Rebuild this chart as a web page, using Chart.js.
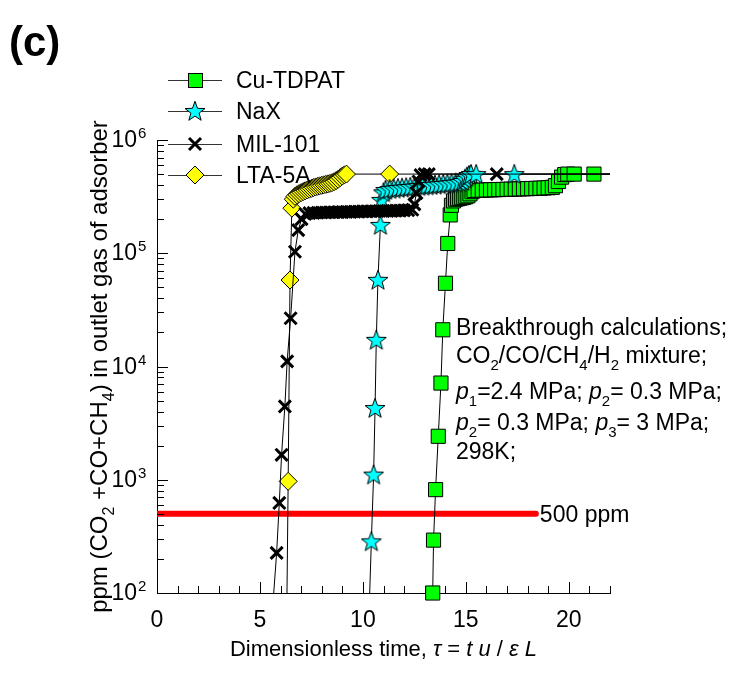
<!DOCTYPE html>
<html>
<head>
<meta charset="utf-8">
<script src="https://cdn.jsdelivr.net/npm/chart.js@4.4.0/dist/chart.umd.min.js"></script>
<style>
  body { margin: 0; background: #fff; }
  #wrap { width: 740px; height: 683px; }
</style>
</head>
<body>
<div id="wrap"><canvas id="breakthrough" width="740" height="683"></canvas></div>
<script>
// dimensionless time and outlet ppm
var cuX = [13.39, 13.43, 13.53, 13.66, 13.79, 13.88, 14.01, 14.12, 14.24, 14.3, 14.4, 14.5, 14.6, 14.7, 14.8, 14.9, 15.0, 15.1, 15.2, 15.3, 15.4, 15.6, 15.8, 16.0, 16.2, 16.4, 16.6, 16.8, 17.0, 17.2, 17.4, 17.6, 17.8, 18.0, 18.2, 18.4, 18.6, 18.8, 19.0, 19.2, 19.35, 19.5, 19.65, 19.8, 19.95, 20.26, 21.22, 23];
var cuY = [100, 293, 818, 2420, 7140, 21100, 54300, 122000, 218000, 265000, 290000, 300000, 303000, 306000, 309000, 312000, 316000, 322000, 335000, 350000, 358000, 360000, 361000, 362000, 363000, 364000, 365000, 366000, 367000, 368000, 369000, 370000, 371000, 372000, 373000, 374000, 375000, 377000, 379000, 382000, 395000, 430000, 470000, 495000, 500000, 500000, 500000, 500000];

var naxX = [10.29, 10.41, 10.52, 10.59, 10.65, 10.73, 10.85, 10.9, 11.0, 11.1, 11.3, 11.5, 11.7, 11.9, 12.1, 12.3, 12.5, 12.7, 12.9, 13.1, 13.3, 13.5, 13.7, 13.9, 14.1, 14.3, 14.5, 14.7, 14.85, 14.95, 15.05, 15.15, 15.25, 15.5, 17.35, 23];
var naxY = [60, 286, 1110, 4300, 17200, 58200, 178000, 296000, 345000, 362000, 368000, 372000, 376000, 379000, 382000, 385000, 388000, 391000, 394000, 397000, 400000, 403000, 406000, 409000, 412000, 416000, 420000, 425000, 435000, 455000, 475000, 490000, 500000, 500000, 500000, 500000];

var milX = [5.58, 5.81, 5.94, 6.05, 6.21, 6.32, 6.49, 6.70, 6.86, 7.02, 7.2, 7.4, 7.6, 7.8, 8.0, 8.2, 8.4, 8.6, 8.8, 9.0, 9.2, 9.4, 9.6, 9.8, 10.0, 10.2, 10.4, 10.6, 10.8, 11.0, 11.2, 11.4, 11.6, 11.8, 12.0, 12.2, 12.4, 12.5, 12.6, 12.7, 12.8, 13.0, 13.2, 16.5, 23];
var milY = [60, 226, 624, 1660, 4440, 11100, 26700, 103000, 160000, 200000, 222000, 226000, 227000, 228000, 229000, 229000, 230000, 230000, 231000, 231000, 232000, 232000, 233000, 233000, 234000, 234000, 235000, 235000, 236000, 236000, 237000, 237000, 238000, 238000, 239000, 240000, 242000, 270000, 340000, 430000, 490000, 500000, 500000, 500000, 500000];

var ltaX = [6.30, 6.37, 6.46, 6.55, 6.62, 6.7, 6.8, 6.9, 7.0, 7.1, 7.2, 7.3, 7.4, 7.5, 7.6, 7.7, 7.8, 7.9, 8.0, 8.1, 8.2, 8.3, 8.4, 8.5, 8.6, 8.7, 8.8, 8.9, 9.0, 9.1, 9.2, 11.3, 23];
var ltaY = [60, 968, 58000, 250000, 300000, 318000, 328000, 336000, 343000, 350000, 356000, 362000, 368000, 374000, 380000, 385000, 390000, 394000, 398000, 402000, 406000, 410000, 414000, 420000, 428000, 438000, 450000, 465000, 480000, 492000, 500000, 500000, 500000];

var limitX = [0, 18.4];
var limitY = [500, 500];

var xTickLabels = [0, 5, 10, 15, 20];
var yDecades = [2, 3, 4, 5, 6];
var seriesNames = ['Cu-TDPAT', 'NaX', 'MIL-101', 'LTA-5A'];

var FONT = '"Liberation Sans", Arial, sans-serif';

function toPoints(xs, ys) {
  var pts = [];
  for (var i = 0; i < xs.length; i++) pts.push({x: xs[i], y: ys[i]});
  return pts;
}

// five point star marker (Chart.js "star" is an asterisk)
var star = document.createElement('canvas');
star.width = 24; star.height = 24;
(function () {
  var c = star.getContext('2d');
  c.beginPath();
  for (var i = 0; i < 10; i++) {
    var r = i % 2 === 0 ? 10.5 : 4.3;
    var a = -Math.PI / 2 + i * Math.PI / 5;
    var px = 12 + r * Math.cos(a), py = 12.8 + r * Math.sin(a);
    if (i === 0) c.moveTo(px, py); else c.lineTo(px, py);
  }
  c.closePath();
  c.fillStyle = '#00ffff';
  c.fill();
  c.lineWidth = 1;
  c.strokeStyle = '#000';
  c.stroke();
})();

// text pieces: [text, kind] kind: '' normal, 'i' italic, 'b' subscript, 'p' superscript
function fontFor(kind, size) {
  if (kind === 'b' || kind === 'p') return Math.round(size * 0.65) + 'px ' + FONT;
  if (kind === 'i') return 'italic ' + size + 'px ' + FONT;
  return size + 'px ' + FONT;
}
function richWidth(ctx, runs, size) {
  var w = 0;
  runs.forEach(function (r) {
    ctx.font = fontFor(r[1], size);
    w += ctx.measureText(r[0]).width;
  });
  return w;
}
function drawRich(ctx, runs, x, y, size, align) {
  var cx = align === 'center' ? x - richWidth(ctx, runs, size) / 2 : x;
  ctx.textAlign = 'left';
  ctx.textBaseline = 'alphabetic';
  runs.forEach(function (r) {
    ctx.font = fontFor(r[1], size);
    var dy = r[1] === 'b' ? size * 0.3 : (r[1] === 'p' ? -size * 0.42 : 0);
    ctx.fillText(r[0], cx, y + dy);
    cx += ctx.measureText(r[0]).width;
  });
}

function line(ctx, x1, y1, x2, y2) {
  ctx.beginPath();
  ctx.moveTo(x1, y1);
  ctx.lineTo(x2, y2);
  ctx.stroke();
}

var decor = {
  id: 'decor',
  afterDraw: function (chart) {
    var ctx = chart.ctx;
    var xs = chart.scales.x, ys = chart.scales.y, area = chart.chartArea;
    ctx.save();
    ctx.fillStyle = '#000';
    ctx.strokeStyle = '#000';
    ctx.lineWidth = 1;

    // inward tick marks
    for (var v = 0; v <= 22; v++) {
      var px = Math.round(xs.getPixelForValue(v)) + 0.5;
      line(ctx, px, area.bottom, px, area.bottom - (v % 5 === 0 ? 11 : 7));
    }
    for (var k = 2; k <= 6; k++) {
      for (var m = 1; m <= 9; m++) {
        if (k === 6 && m > 1) break;
        var py = Math.round(ys.getPixelForValue(m * Math.pow(10, k))) + 0.5;
        line(ctx, area.left, py, area.left + (m === 1 ? 11 : 7), py);
      }
    }

    // tick labels
    ctx.textAlign = 'center';
    ctx.textBaseline = 'alphabetic';
    ctx.font = '23px ' + FONT;
    xTickLabels.forEach(function (t) {
      ctx.fillText(String(t), xs.getPixelForValue(t), area.bottom + 34);
    });
    yDecades.forEach(function (e) {
      var yy = ys.getPixelForValue(Math.pow(10, e));
      ctx.textAlign = 'right';
      ctx.font = '23px ' + FONT;
      ctx.fillText('10', area.left - 20, yy + 7);
      ctx.textAlign = 'left';
      ctx.font = '15px ' + FONT;
      ctx.fillText(String(e), area.left - 19, yy - 2);
    });

    // axis titles
    drawRich(ctx, [['Dimensionless time, ', ''], ['\u03c4', 'i'], [' = ', ''], ['t', 'i'], [' ', ''], ['u', 'i'], [' / ', ''], ['\u03b5', 'i'], [' ', ''], ['L', 'i']],
      (area.left + area.right) / 2, 656, 22, 'center');
    ctx.save();
    ctx.translate(107, (area.top + area.bottom) / 2);
    ctx.rotate(-Math.PI / 2);
    drawRich(ctx, [['ppm (CO', ''], ['2', 'b'], [' +CO+CH', ''], ['4', 'b'], [') in outlet gas of adsorber', '']], 0, 0, 24, 'center');
    ctx.restore();

    // annotation
    var ax = 456;
    drawRich(ctx, [['Breakthrough calculations;', '']], ax, 335, 23);
    drawRich(ctx, [['CO', ''], ['2', 'b'], ['/CO/CH', ''], ['4', 'b'], ['/H', ''], ['2', 'b'], [' mixture;', '']], ax, 363, 23);
    drawRich(ctx, [['p', 'i'], ['1', 'b'], ['=2.4 MPa; ', ''], ['p', 'i'], ['2', 'b'], ['= 0.3 MPa;', '']], ax, 399, 23);
    drawRich(ctx, [['p', 'i'], ['2', 'b'], ['= 0.3 MPa; ', ''], ['p', 'i'], ['3', 'b'], ['= 3 MPa;', '']], ax, 430, 23);
    drawRich(ctx, [['298K;', '']], ax, 459, 23);
    drawRich(ctx, [['500 ppm', '']], xs.getPixelForValue(limitX[1]) + 4, ys.getPixelForValue(limitY[1]) + 8, 23);

    // panel letter
    ctx.font = 'bold 42px ' + FONT;
    ctx.textAlign = 'left';
    ctx.fillText('(c)', 9, 56);

    // legend
    var ly = [80, 111, 144, 175];
    for (var i = 0; i < 4; i++) {
      var y0 = ly[i];
      ctx.strokeStyle = '#333';
      ctx.lineWidth = 1;
      line(ctx, 168, y0 + 0.5, 222, y0 + 0.5);
      ctx.strokeStyle = '#000';
      if (i === 0) {
        ctx.fillStyle = '#00ff00';
        ctx.fillRect(188, y0 - 7, 14, 14);
        ctx.strokeRect(188.5, y0 - 6.5, 14, 14);
      } else if (i === 1) {
        ctx.drawImage(star, 195 - 12, y0 - 12);
      } else if (i === 2) {
        ctx.lineWidth = 3;
        line(ctx, 189, y0 - 6, 201, y0 + 6);
        line(ctx, 201, y0 - 6, 189, y0 + 6);
        ctx.lineWidth = 1;
      } else {
        ctx.fillStyle = '#ffff00';
        ctx.beginPath();
        ctx.moveTo(195, y0 - 9); ctx.lineTo(204, y0); ctx.lineTo(195, y0 + 9); ctx.lineTo(186, y0);
        ctx.closePath();
        ctx.fill();
        ctx.stroke();
      }
      ctx.fillStyle = '#000';
      ctx.font = '23px ' + FONT;
      ctx.textAlign = 'left';
      ctx.fillText(seriesNames[i], 236, y0 + 8);
    }
    ctx.restore();
  }
};

var clipIn = {left: 0, top: 0, right: 0, bottom: 0};

new Chart(document.getElementById('breakthrough'), {
  type: 'scatter',
  data: {
    datasets: [
      {
        label: 'MIL-101', data: toPoints(milX, milY), showLine: true, clip: clipIn,
        borderColor: '#000', borderWidth: 1,
        pointStyle: 'crossRot', pointRadius: 8.5, pointBorderWidth: 3, pointBorderColor: '#000'
      },
      {
        label: 'NaX', data: toPoints(naxX, naxY), showLine: true, clip: clipIn,
        borderColor: '#000', borderWidth: 1,
        pointStyle: star, pointRadius: 9
      },
      {
        label: 'LTA-5A', data: toPoints(ltaX, ltaY), showLine: true, clip: clipIn,
        borderColor: '#000', borderWidth: 1,
        pointStyle: 'rectRot', pointRadius: 9, pointBackgroundColor: '#ffff00', pointBorderColor: '#000', pointBorderWidth: 1
      },
      {
        label: 'Cu-TDPAT', data: toPoints(cuX, cuY), showLine: true, clip: {left: 0, top: 0, right: 0, bottom: 10},
        borderColor: '#000', borderWidth: 1,
        pointStyle: 'rect', pointRadius: 10, pointBackgroundColor: '#00ff00', pointBorderColor: '#000', pointBorderWidth: 1
      },
      {
        label: '500 ppm', data: toPoints(limitX, limitY), showLine: true, clip: clipIn,
        borderColor: '#ff0000', borderWidth: 6, borderCapStyle: 'round', pointRadius: 0
      }
    ]
  },
  options: {
    responsive: false,
    animation: false,
    devicePixelRatio: 1,
    layout: { padding: { left: 157, right: 130, top: 140, bottom: 90 } },
    plugins: { legend: { display: false }, tooltip: { enabled: false } },
    scales: {
      x: {
        type: 'linear', min: 0, max: 22,
        grid: { display: false, drawTicks: false },
        border: { display: true, color: '#000', width: 1 },
        ticks: { display: false }
      },
      y: {
        type: 'logarithmic', min: 100, max: 1000000,
        grid: { display: false, drawTicks: false },
        border: { display: true, color: '#000', width: 1 },
        ticks: { display: false }
      }
    }
  },
  plugins: [decor]
});
</script>
</body>
</html>
